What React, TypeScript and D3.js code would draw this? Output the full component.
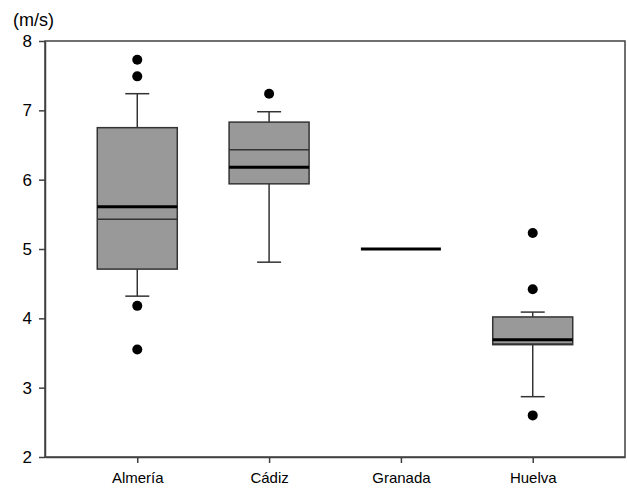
import React, { useRef, useEffect } from 'react';
import * as d3 from "d3";

const width = 627;
const height = 489;
const margin = ({ top: 41, right: 2, bottom: 32, left: 45 });

const categories = ["Almería", "Cádiz", "Granada", "Huelva"];
const whiskerLow = [4.32, 4.81, 5.0, 2.87];
const q1 = [4.71, 5.94, 5.0, 3.62];
const median = [5.61, 6.18, 5.0, 3.69];
const mean = [5.43, 6.43, 5.0, 3.63];
const q3 = [6.75, 6.83, 5.0, 4.02];
const whiskerHigh = [7.24, 6.98, 5.0, 4.09];
const outliers = [[7.73, 7.49, 4.18, 3.55], [7.24], [], [5.23, 4.42, 2.60]];
const yTicks = [2, 3, 4, 5, 6, 7, 8];
const yLabel = "(m/s)";

export default function App() {
    const ref = useRef<SVGSVGElement>(null);

    useEffect(() => {
        if (!ref.current) return;
        const svg = d3.select(ref.current);
        svg.selectAll("*").remove();

        const x = d3.scalePoint()
            .domain(categories)
            .range([margin.left, width - margin.right])
            .padding(0.7);

        const y = d3.scaleLinear()
            .domain([2, 8])
            .range([height - margin.bottom, margin.top]);

        const boxW = 80;
        const capW = 24;
        const axisColor = "#404040";
        const font = "Liberation Sans, Arial, sans-serif";

        // frame
        svg.append("rect")
            .attr("x", margin.left)
            .attr("y", margin.top)
            .attr("width", width - margin.right - margin.left)
            .attr("height", height - margin.bottom - margin.top)
            .attr("fill", "none")
            .attr("stroke", axisColor)
            .attr("stroke-width", 1.5);

        const yAxis = g => g
            .attr("transform", `translate(${margin.left},0)`)
            .call(d3.axisLeft(y).tickValues(yTicks).tickFormat(d3.format("d"))
                .tickSize(6).tickPadding(7).tickSizeOuter(0))
            .call(g => g.select(".domain").attr("stroke", axisColor).attr("stroke-width", 1.5))
            .call(g => g.selectAll(".tick line").attr("stroke", axisColor).attr("stroke-width", 1.5))
            .call(g => g.selectAll(".tick text")
                .attr("font-family", font)
                .attr("font-size", 17)
                .attr("fill", "#000"));

        const xAxis = g => g
            .attr("transform", `translate(0,${height - margin.bottom})`)
            .call(d3.axisBottom(x).tickSize(6).tickPadding(9).tickSizeOuter(0))
            .call(g => g.select(".domain").attr("stroke", axisColor).attr("stroke-width", 1.5))
            .call(g => g.selectAll(".tick line").attr("stroke", axisColor).attr("stroke-width", 1.5))
            .call(g => g.selectAll(".tick text")
                .attr("font-family", font)
                .attr("font-size", 15)
                .attr("fill", "#000"));

        svg.append("g").call(yAxis);
        svg.append("g").call(xAxis);

        svg.append("text")
            .attr("x", 13)
            .attr("y", 26)
            .attr("font-family", font)
            .attr("font-size", 18)
            .attr("fill", "#000")
            .text(yLabel);

        categories.forEach((c, i) => {
            const cx = x(c)!;
            const g = svg.append("g");
            if (q3[i] > q1[i]) {
                // whiskers
                g.append("line")
                    .attr("x1", cx).attr("x2", cx)
                    .attr("y1", y(q3[i])).attr("y2", y(whiskerHigh[i]))
                    .attr("stroke", "#333").attr("stroke-width", 1.5);
                g.append("line")
                    .attr("x1", cx).attr("x2", cx)
                    .attr("y1", y(q1[i])).attr("y2", y(whiskerLow[i]))
                    .attr("stroke", "#333").attr("stroke-width", 1.5);
                [whiskerHigh[i], whiskerLow[i]].forEach(v => {
                    g.append("line")
                        .attr("x1", cx - capW / 2).attr("x2", cx + capW / 2)
                        .attr("y1", y(v)).attr("y2", y(v))
                        .attr("stroke", "#333").attr("stroke-width", 1.5);
                });
                g.append("rect")
                    .attr("x", cx - boxW / 2)
                    .attr("y", y(q3[i]))
                    .attr("width", boxW)
                    .attr("height", y(q1[i]) - y(q3[i]))
                    .attr("fill", "#999999")
                    .attr("stroke", "#333")
                    .attr("stroke-width", 1.5);
                g.append("line")
                    .attr("x1", cx - boxW / 2).attr("x2", cx + boxW / 2)
                    .attr("y1", y(mean[i])).attr("y2", y(mean[i]))
                    .attr("stroke", "#333").attr("stroke-width", 1.5);
            }
            g.append("line")
                .attr("x1", cx - boxW / 2).attr("x2", cx + boxW / 2)
                .attr("y1", y(median[i])).attr("y2", y(median[i]))
                .attr("stroke", "#000").attr("stroke-width", 3);
            g.selectAll("circle")
                .data(outliers[i])
                .join("circle")
                .attr("cx", cx)
                .attr("cy", d => y(d))
                .attr("r", 5)
                .attr("fill", "#000");
        });
    }, []);

    return (
        <svg ref={ref} width={width} height={height}
            style={{ position: "absolute", left: 0, top: 0, background: "#fff" }} />
    );
}
